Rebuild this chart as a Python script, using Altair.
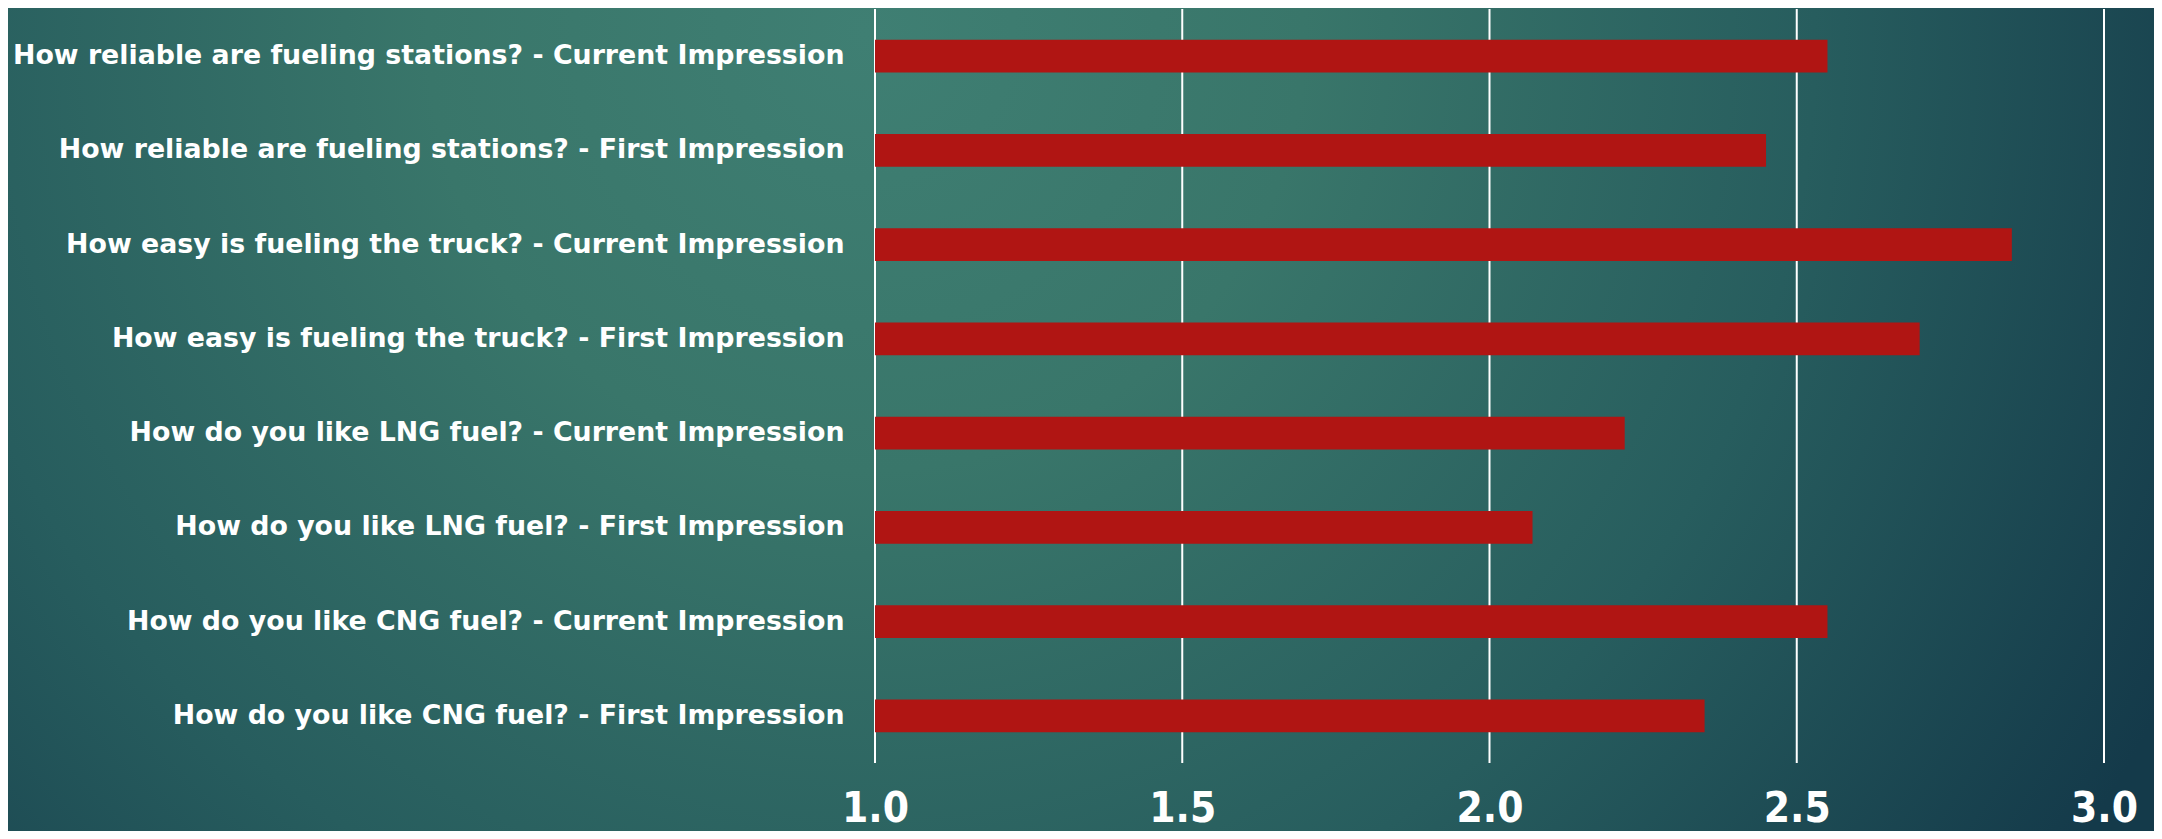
import altair as alt
import pandas as pd

questions = [
    "How reliable are fueling stations? - Current Impression",
    "How reliable are fueling stations? - First Impression",
    "How easy is fueling the truck? - Current Impression",
    "How easy is fueling the truck? - First Impression",
    "How do you like LNG fuel? - Current Impression",
    "How do you like LNG fuel? - First Impression",
    "How do you like CNG fuel? - Current Impression",
    "How do you like CNG fuel? - First Impression",
]
scores = [2.55, 2.45, 2.85, 2.70, 2.22, 2.07, 2.55, 2.35]
tick_values = [1.0, 1.5, 2.0, 2.5, 3.0]
axis_min = 1.0
axis_max = 3.0

df = pd.DataFrame({"question": questions, "score": scores})
grid_df = pd.DataFrame({"tick": tick_values})

W = 1229
H = 754
PAD = {"left": 867, "top": 1, "right": 50, "bottom": 68}

xscale = alt.Scale(domain=[axis_min, axis_max], zero=False, nice=False)
yscale = alt.Scale(paddingInner=0.65, paddingOuter=0.325)

x_axis = alt.Axis(
    title=None,
    grid=False,
    domain=False,
    ticks=False,
    values=tick_values,
    format=".1f",
    labelFlush=False,
    labelFont="DejaVu Sans Condensed",
    labelFontWeight="bold",
    labelFontSize=42,
    labelColor="white",
    labelBaseline="alphabetic",
    labelPadding=58,
    zindex=1,
)

bg = (
    alt.Chart(pd.DataFrame({"k": [0]}))
    .mark_rect(
        clip=False,
        fill=alt.RadialGradient(
            gradient="radial",
            x1=0.4, y1=0.32, r1=0.0,
            x2=0.4, y2=0.32, r2=0.68,
            stops=[
                alt.GradientStop(color="#3f7f73", offset=0.0),
                alt.GradientStop(color="#39766a", offset=0.3),
                alt.GradientStop(color="#275d5e", offset=0.65),
                alt.GradientStop(color="#143a4a", offset=1.0),
            ],
        ),
    )
    .encode(
        x=alt.value(-PAD["left"]),
        x2=alt.value(W + PAD["right"]),
        y=alt.value(-PAD["top"]),
        y2=alt.value(H + PAD["bottom"]),
    )
)

grid = (
    alt.Chart(grid_df)
    .mark_rule(color="white", strokeWidth=2)
    .encode(x=alt.X("tick:Q", scale=xscale, axis=x_axis))
)

bars = (
    alt.Chart(df)
    .mark_bar(color="#b01513")
    .encode(
        y=alt.Y(
            "question:N",
            sort=questions,
            scale=yscale,
            axis=alt.Axis(
                title=None,
                domain=False,
                ticks=False,
                grid=False,
                labelFont="DejaVu Sans",
                labelFontWeight="bold",
                labelFontSize=26.8,
                labelColor="white",
                labelPadding=31,
                labelLimit=2000,
                zindex=1,
            ),
        ),
        x=alt.X("score:Q", scale=xscale, axis=x_axis),
        x2=alt.datum(axis_min),
    )
)

chart = (
    alt.layer(bg, grid, bars)
    .properties(width=W, height=H, autosize=alt.AutoSizeParams(type="none"), padding=PAD)
    .configure_view(stroke=None)
    .configure(background="#1f4f58")
)

chart.save("out.html", embed_options={"renderer": "svg", "actions": False})
